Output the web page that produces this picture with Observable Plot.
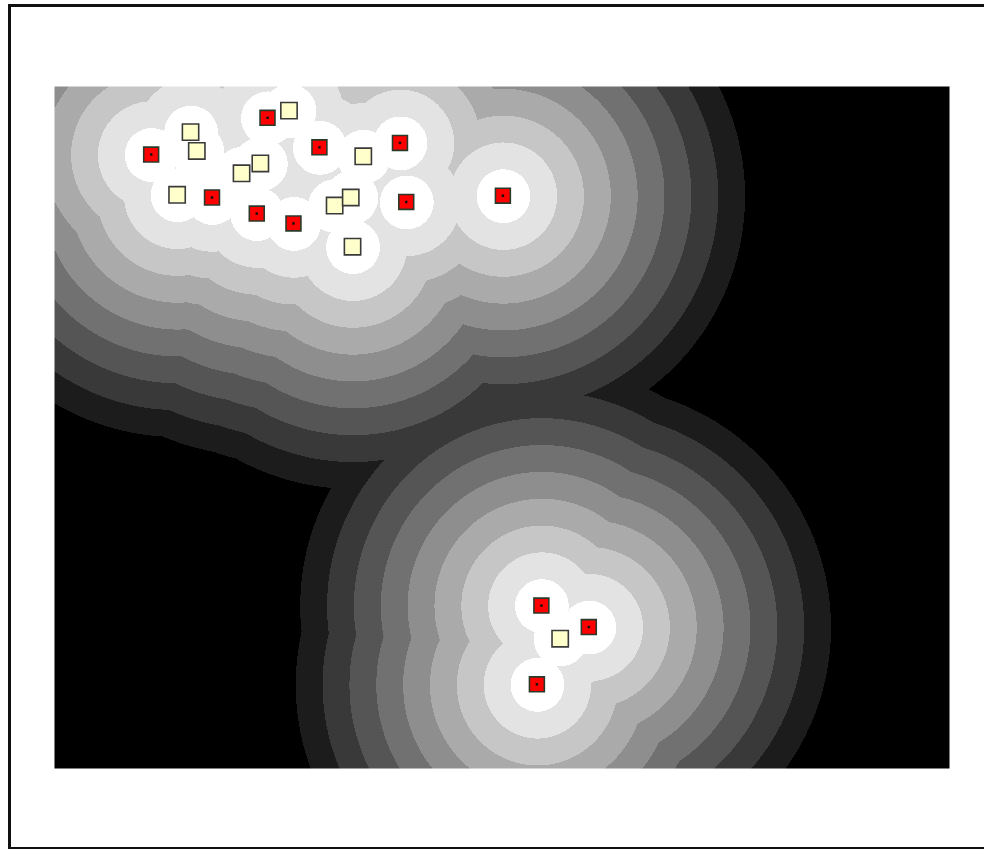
<!DOCTYPE html>
<html>
<head>
<meta charset="utf-8">
<script src="https://cdn.jsdelivr.net/npm/d3@7"></script>
<script src="https://cdn.jsdelivr.net/npm/@observablehq/plot@0.6"></script>
<style>
  html, body { margin: 0; padding: 0; width: 984px; height: 849px; overflow: hidden; background: #fff; }
  #chart { position: absolute; left: 0; top: 0; }
  #frame { position: absolute; left: 8px; top: 4px; width: 1000px; height: 840px; border: 3px solid #111; z-index: 2; pointer-events: none; }
</style>
</head>
<body>
<div id="chart"></div>
<div id="frame"></div>
<script>
// Red sites (x, y in map units; y grows downward)
const redX = [10.8, 23.8, 29.6, 38.6, 17.6, 22.6, 26.7, 39.3, 50.1, 54.4, 59.7, 53.9];
const redY = [7.6, 3.5, 6.8, 6.3, 12.4, 14.2, 15.3, 12.9, 12.2, 58.0, 60.4, 66.8];
// Yellow sites
const yelX = [15.2, 15.9, 26.2, 34.5, 13.7, 20.9, 23.0, 31.3, 33.1, 33.3, 56.5];
const yelY = [5.1, 7.2, 2.7, 7.8, 12.1, 9.7, 8.6, 13.3, 12.4, 17.9, 61.7];
// Distance band width (map units) and number of bands
const bandWidth = 3;
const bandCount = 9;
const xDomain = [0, 100];
const yDomain = [0, 76.2];

const red = redX.map((x, i) => ({x, y: redY[i]}));
const yel = yelX.map((x, i) => ({x, y: yelY[i]}));
const all = red.concat(yel);

function band(x, y) {
  let m = Infinity;
  for (const p of all) {
    const d = Math.hypot(x - p.x, y - p.y);
    if (d < m) m = d;
  }
  return Math.min(bandCount, Math.floor(m / bandWidth));
}

const plot = Plot.plot({
  width: 984,
  height: 849,
  marginLeft: 54,
  marginTop: 86,
  marginRight: 35,
  marginBottom: 81,
  x: {domain: xDomain, axis: null},
  y: {domain: yDomain, reverse: true, axis: null},
  color: {type: "linear", domain: [0, bandCount], range: ["#ffffff", "#000000"], interpolate: "rgb"},
  marks: [
    Plot.raster({
      x1: xDomain[0], x2: xDomain[1], y1: yDomain[0], y2: yDomain[1],
      fill: band,
      pixelSize: 1,
      imageRendering: "pixelated"
    }),
    Plot.dot(yel, {x: "x", y: "y", symbol: "square", r: 9.2, fill: "#ffffcc", stroke: "#3a3a3a", strokeWidth: 1.6}),
    Plot.dot(red, {x: "x", y: "y", symbol: "square", r: 8.4, fill: "#ff0000", stroke: "#2a3a2a", strokeWidth: 1.6}),
    Plot.dot(red, {x: "x", y: "y", symbol: "square", r: 1.4, fill: "#111"})
  ]
});
document.getElementById("chart").appendChild(plot);
</script>
</body>
</html>
